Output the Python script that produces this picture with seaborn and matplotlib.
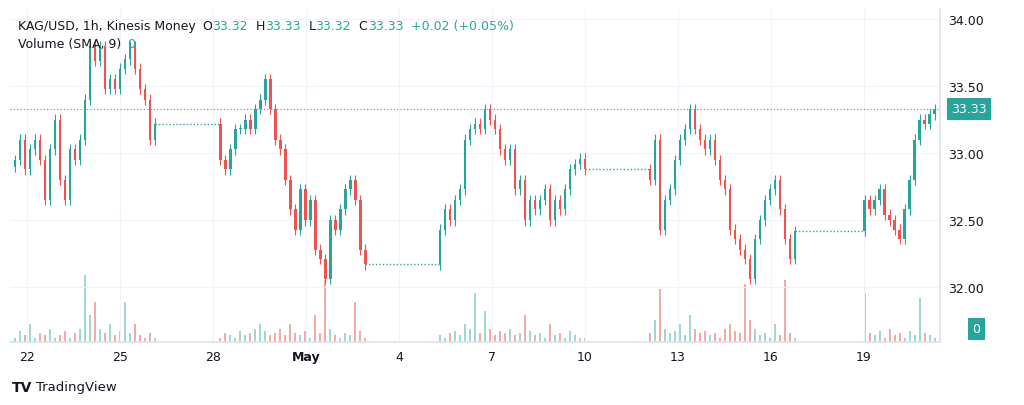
import numpy as np
import pandas as pd
import seaborn as sns
import matplotlib
matplotlib.use("Agg")
import matplotlib.pyplot as plt

sns.set_theme(style="white")
plt.rcParams["font.family"] = "DejaVu Sans"

# Trading segments (start day, April-based numbering; May 1 = 31), closes every ~4h
seg_starts = [21.61, 28.23, 35.32, 42.10, 49.03]
seg_closes = [
    [32.95, 33.10, 32.88, 33.03, 33.10, 32.95, 32.65, 33.03, 33.25, 32.80, 32.65, 33.03,
     32.95, 33.10, 33.40, 33.80, 33.69, 33.80, 33.48, 33.55, 33.48, 33.63, 33.70, 33.80,
     33.63, 33.48, 33.40, 33.10, 33.22],
    [32.95, 32.88, 33.03, 33.18, 33.18, 33.25, 33.18, 33.33, 33.40, 33.55, 33.33, 33.10,
     33.03, 32.80, 32.58, 32.43, 32.73, 32.50, 32.65, 32.28, 32.21, 32.06, 32.50, 32.43,
     32.58, 32.73, 32.80, 32.65, 32.28, 32.17],
    [32.43, 32.58, 32.50, 32.65, 32.73, 33.10, 33.18, 33.22, 33.18, 33.33, 33.25, 33.18,
     33.03, 32.95, 33.03, 32.73, 32.80, 32.50, 32.65, 32.58, 32.65, 32.73, 32.50, 32.65,
     32.58, 32.73, 32.88, 32.92, 32.96, 32.88],
    [32.80, 33.10, 32.43, 32.65, 32.73, 32.95, 33.10, 33.18, 33.33, 33.18, 33.10, 33.03,
     33.10, 32.95, 32.80, 32.73, 32.43, 32.36, 32.28, 32.21, 32.06, 32.36, 32.50, 32.65,
     32.73, 32.80, 32.58, 32.36, 32.21, 32.42],
    [32.65, 32.58, 32.65, 32.73, 32.54, 32.50, 32.43, 32.36, 32.58, 32.80, 33.10, 33.25,
     33.22, 33.29, 33.33],
]
seg_volumes = [
    [2, 5, 3, 8, 2, 4, 3, 6, 2, 3, 5, 2, 4, 6, 30, 12, 18, 6, 4, 8, 3, 5, 18, 4, 8, 3, 2, 4, 2],
    [2, 4, 3, 2, 5, 3, 4, 6, 8, 5, 3, 4, 6, 3, 8, 4, 3, 5, 2, 12, 4, 28, 6, 3, 2, 4, 3, 18, 5, 2],
    [3, 2, 4, 5, 3, 8, 6, 22, 4, 14, 6, 3, 5, 4, 6, 3, 4, 12, 5, 3, 4, 2, 8, 3, 4, 2, 5, 3, 2, 2],
    [4, 10, 24, 6, 4, 5, 8, 3, 12, 6, 4, 5, 3, 4, 2, 6, 8, 5, 4, 26, 10, 6, 3, 4, 2, 8, 3, 28, 4, 2],
    [22, 4, 3, 5, 2, 6, 3, 4, 2, 5, 3, 20, 4, 3, 2],
]
first_open = 32.90
last_price = 33.33
tick_days = [22, 25, 28, 31, 34, 37, 40, 43, 46, 49]
tick_labels = ["22", "25", "28", "May", "4", "7", "10", "13", "16", "19"]
price_ticks = [32.0, 32.5, 33.0, 33.5, 34.0]

UP, DN = "#26a69a", "#ef5350"
step = 5 / 31

fig = plt.figure(figsize=(10.24, 4.06), dpi=100)
ax = fig.add_axes([0.0098, 0.155, 0.908, 0.82])
axv = ax.twinx()
axv.set_zorder(0); ax.set_zorder(1); ax.patch.set_visible(False)

rows = []
prev = first_open
ends = []
for s, closes, vols in zip(seg_starts, seg_closes, seg_volumes):
    for i, (c, v) in enumerate(zip(closes, vols)):
        rows.append(dict(x=s + i * step, o=prev, c=c, v=v))
        prev = c
    ends.append((s, s + (len(closes) - 1) * step, closes[-1]))
df = pd.DataFrame(rows)
df["up"] = df.c >= df.o
df["hi"] = df[["o", "c"]].max(axis=1) + 0.04
df["lo"] = df[["o", "c"]].min(axis=1) - 0.04
df["col"] = np.where(df.up, UP, DN)
df["vcol"] = np.where(df.up, "#9fd8d2", "#f3a9a6")

ax.vlines(df.x, df.lo, df.hi, colors=df.col, lw=0.8)
ax.bar(df.x, (df.c - df.o).abs().clip(lower=0.01), bottom=df[["o", "c"]].min(axis=1),
       width=step * 0.55, color=df.col, lw=0)
for (a, b) in zip(ends[:-1], ends[1:]):
    ax.plot([a[1], b[0]], [a[2], a[2]], color=UP, lw=1, ls=(0, (1, 1.5)))

axv.bar(df.x, df.v, width=step * 0.3, color=df.vcol, lw=0)
axv.set_ylim(0, 150)
axv.axis("off")

ax.axhline(last_price, color=UP, lw=0.8, ls=(0, (1, 2)))
ax.set_ylim(31.59, 34.075)
ax.set_xlim(21.61 - step, 51.45)
ax.yaxis.tick_right()
ax.set_yticks(price_ticks)
ax.set_yticklabels([f"{p:.2f}" for p in price_ticks], fontsize=9, color="#131722")
ax.set_xticks(tick_days)
ax.set_xticklabels(tick_labels, fontsize=9, color="#131722")
for lab in ax.get_xticklabels():
    if lab.get_text() == "May":
        lab.set_fontweight("bold")
ax.tick_params(length=0, pad=6)
ax.grid(True, color="#f0f3fa", lw=0.8)
for sp in ax.spines.values():
    sp.set_color("#e0e3eb")
ax.spines["left"].set_visible(False)
ax.spines["top"].set_visible(False)

ax.text(1.012, (last_price - 31.59) / (34.075 - 31.59), "33.33", transform=ax.transAxes,
        fontsize=9, color="white", va="center", ha="left",
        bbox=dict(boxstyle="square,pad=0.35", fc=UP, ec="none"))
ax.text(1.035, 0.04, "0", transform=ax.transAxes, fontsize=9, color="white",
        va="center", ha="left", bbox=dict(boxstyle="square,pad=0.35", fc=UP, ec="none"))

r = fig.canvas.get_renderer()
t0 = fig.text(0.018, 0.935, "KAG/USD, 1h, Kinesis Money", fontsize=9, color="#131722", va="center")
xpos = 0.018 + t0.get_window_extent(r).width / fig.bbox.width + 0.006
parts = [("O", "#131722"), ("33.32", UP), ("  H", "#131722"), ("33.33", UP), ("  L", "#131722"),
         ("33.32", UP), ("  C", "#131722"), ("33.33", UP), ("  +0.02 (+0.05%)", UP)]
for t, c in parts:
    tt = fig.text(xpos, 0.935, t, fontsize=9, color=c, va="center")
    xpos += tt.get_window_extent(r).width / fig.bbox.width
t1 = fig.text(0.018, 0.89, "Volume (SMA, 9)", fontsize=9, color="#131722", va="center")
fig.text(0.018 + t1.get_window_extent(r).width / fig.bbox.width + 0.005, 0.89, "0",
         fontsize=9, color=UP, va="center")
fig.text(0.012, 0.045, "TV", fontsize=10, fontweight="bold", color="#131722", va="center")
fig.text(0.035, 0.045, "TradingView", fontsize=9.5, color="#131722", va="center")

fig.savefig("out.png", dpi=100, facecolor="white")
